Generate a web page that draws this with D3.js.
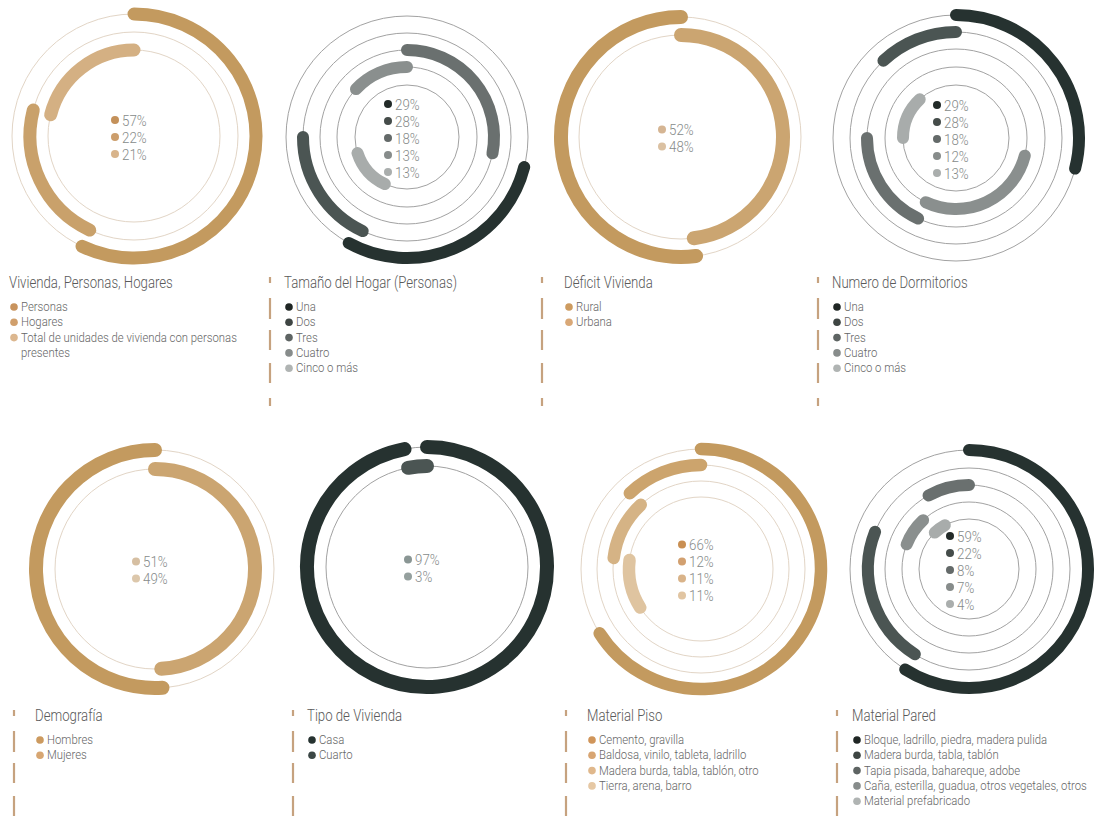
<!DOCTYPE html>
<html><head><meta charset="utf-8">
<script src="https://cdn.jsdelivr.net/npm/d3@7"></script>
<style>
html,body{margin:0;padding:0;background:#fff;}
svg{display:block;}
text{font-family:Roboto,"Liberation Sans",sans-serif;}
</style></head><body>
<svg id="chart" width="1095" height="829"></svg>
<script>
// ---------------- DATA ----------------
const titles = ["Vivienda, Personas, Hogares","Tamaño del Hogar (Personas)","Déficit Vivienda","Numero de Dormitorios","Demografía","Tipo de Vivienda","Material Piso","Material Pared"];

const viviendaLabels = ["Personas","Hogares","Total de unidades de vivienda con personas presentes"];
const viviendaValues = [57,22,21];
const viviendaRings  = [1,2,3];
const viviendaStarts = [0,57,79];

const tamanoLabels = ["Una","Dos","Tres","Cuatro","Cinco o más"];
const tamanoValues = [29,28,18,13,13];
const tamanoRings  = [1,3,2,4,5];
const tamanoStarts = [29,0,57,87,57];

const deficitLabels = ["Rural","Urbana"];
const deficitValues = [52,48];
const deficitRings  = [1,2];
const deficitStarts = [48,0];

const dormLabels = ["Una","Dos","Tres","Cuatro","Cinco o más"];
const dormValues = [29,28,18,12,13];
const dormRings  = [1,4,3,2,5];
const dormStarts = [0,29,57,88,75];

const demoLabels = ["Hombres","Mujeres"];
const demoValues = [51,49];
const demoRings  = [1,2];
const demoStarts = [49,0];

const tipoLabels = ["Casa","Cuarto"];
const tipoValues = [97,3];
const tipoRings  = [1,2];
const tipoStarts = [0,97];

const pisoLabels = ["Cemento, gravilla","Baldosa, vinilo, tableta, ladrillo","Madera burda, tabla, tablón, otro","Tierra, arena, barro"];
const pisoValues = [66,12,11,11];
const pisoRings  = [1,2,3,4];
const pisoStarts = [0,88,77,66];

const paredLabels = ["Bloque, ladrillo, piedra, madera pulida","Madera burda, tabla, tablón","Tapia pisada, bahareque, adobe","Caña, esterilla, guadua, otros vegetales, otros","Material prefabricado"];
const paredValues = [59,22,8,7,4];
const paredRings  = [1,2,3,4,5];
const paredStarts = [0,59,92,81,88];

// ---------------- STYLES ----------------
const tanRing3 = ["#c39a5f","#c9a16b","#d4b083"];
const tanRing2 = ["#c39a5f","#cba571"];
const tanRing4 = ["#c39a5f","#cca46d","#d5b385","#dfc4a0"];
const greyRing5 = ["#263230","#4b5553","#6a706f","#8a8f8e","#a8acab"];
const greyRing2 = ["#263230","#4b5553"];
const greyDots = ["#222a28","#454c4a","#646a69","#878c8b","#aaaead"];
const greyLeg  = ["#1f2624","#3e4543","#5e6463","#878c8b","#b0b4b3"];
const tanThin = "#e2d5c6", greyThin = "#a2a2a2";
const SX_TITLE = 0.8, SX_LEG = 0.84, SX_CENTER = 0.86;

const charts = [
  {labels:viviendaLabels, values:viviendaValues, rings:viviendaRings, starts:viviendaStarts,
   cx:134, cy:136, radii:[122,104,86], ringColors:tanRing3, thin:tanThin,
   dots:["#c4915a","#cc9e6c","#d8b48b"], leg:["#c8935d","#d09f6c","#dcb78f"],
   tx:9, ty:288, sep:null, wrap:240},
  {labels:tamanoLabels, values:tamanoValues, rings:tamanoRings, starts:tamanoStarts,
   cx:407, cy:137, radii:[121,104,87,70,52], ringColors:greyRing5, thin:greyThin,
   dots:greyDots, leg:greyLeg, tx:284, ty:288, sep:270, wrap:250},
  {labels:deficitLabels, values:deficitValues, rings:deficitRings, starts:deficitStarts,
   cx:681, cy:137, radii:[120,102], ringColors:tanRing2, thin:tanThin,
   dots:["#d5b593","#dbc1a2"], leg:["#cd9b60","#d9a877"], tx:564, ty:288, sep:542, wrap:250},
  {labels:dormLabels, values:dormValues, rings:dormRings, starts:dormStarts,
   cx:956, cy:138, radii:[123,106,89,71,53], ringColors:greyRing5, thin:greyThin,
   dots:greyDots, leg:greyLeg, tx:832, ty:288, sep:818, wrap:260},
  {labels:demoLabels, values:demoValues, rings:demoRings, starts:demoStarts,
   cx:155, cy:569, radii:[119,100], ringColors:tanRing2, thin:tanThin,
   dots:["#d6bfa2","#dcc7ab"], leg:["#cc9a5f","#d7a672"], tx:35, ty:721, sep:14, wrap:250},
  {labels:tipoLabels, values:tipoValues, rings:tipoRings, starts:tipoStarts,
   cx:427, cy:567, radii:[120,101], ringColors:greyRing2, thin:greyThin,
   dots:["#8a9694","#95a09e"], leg:["#263230","#3b4745"], tx:307, ty:721, sep:293, wrap:250},
  {labels:pisoLabels, values:pisoValues, rings:pisoRings, starts:pisoStarts,
   cx:701, cy:569, radii:[120,104,88,72], ringColors:tanRing4, thin:tanThin,
   dots:["#c98f52","#d2a070","#d9b389","#e1c5a2"], leg:["#d0955a","#d8a572","#e0b88c","#e6c8a4"],
   tx:587, ty:721, sep:566, wrap:250},
  {labels:paredLabels, values:paredValues, rings:paredRings, starts:paredStarts,
   cx:969, cy:569, radii:[119,101,84,67,50], ringColors:greyRing5, thin:greyThin,
   dots:greyDots, leg:greyLeg, tx:852, ty:721, sep:837, wrap:300},
];

// ---------------- DRAW ----------------
const svg = d3.select("#chart");
const angle = d3.scaleLinear().domain([0,100]).range([0, 2*Math.PI]);

function arcPath(r, a0, a1){
  const p = d3.path();
  p.arc(0, 0, r, a0 - Math.PI/2, a1 - Math.PI/2, false);
  return p.toString();
}
function addText(parent, x, y, str, size, fill, sx, dy){
  const t = parent.append("text")
    .attr("transform", `translate(${x},${y}) scale(${sx},1)`)
    .attr("font-size", size).attr("fill", fill).text(str);
  if (dy) t.attr("dy", dy);
  return t;
}

charts.forEach((c, ci) => {
  const g = svg.append("g").attr("transform", `translate(${c.cx},${c.cy})`);
  const n = c.radii.length;
  const sw = n >= 5 ? 12 : n === 4 ? 12.5 : n === 3 ? 13 : 14;

  g.selectAll("circle.ring").data(c.radii).join("circle")
    .attr("class","ring").attr("r", d => d)
    .attr("fill","none").attr("stroke", c.thin).attr("stroke-width", 1);

  const segs = c.values.map((v, i) => ({v, ring:c.rings[i], start:c.starts[i]}))
    .sort((a,b) => a.ring - b.ring);
  g.selectAll("path.seg").data(segs).join("path")
    .attr("class","seg")
    .attr("d", d => arcPath(c.radii[d.ring-1], angle(d.start), angle(d.start + d.v)))
    .attr("fill","none")
    .attr("stroke", d => c.ringColors[d.ring-1])
    .attr("stroke-width", sw)
    .attr("stroke-linecap","round");

  // center labels
  const step = 17;
  c.values.forEach((v, i) => {
    const yy = (i-(c.values.length-1)/2)*step + 1;
    g.append("circle").attr("cx",-19).attr("cy",yy).attr("r",4).attr("fill",c.dots[i]);
    addText(g, -12, yy, v + "%", 15.5, "#868b8a", SX_CENTER, "0.36em").attr("font-weight",300);
  });

  // title
  addText(svg, c.tx, c.ty, titles[ci], 16.5, "#5a5a5a", SX_TITLE).attr("font-weight",300);

  // legend
  let line = 0;
  const lg = svg.append("g");
  c.labels.forEach((lbl, i) => {
    const y0 = c.ty + 23 + line*15.3;
    lg.append("circle").attr("cx", c.tx+5).attr("cy", y0-4).attr("r",3.8).attr("fill", c.leg[i]);
    const words = lbl.split(" ");
    let cur = [];
    let t = addText(lg, c.tx+12, c.ty + 23 + line*15.3, "", 13.5, "#666", SX_LEG).attr("font-weight",300);
    words.forEach(w => {
      cur.push(w);
      t.text(cur.join(" "));
      if (t.node().getComputedTextLength()*SX_LEG > c.wrap - 12 && cur.length > 1) {
        cur.pop();
        t.text(cur.join(" "));
        cur = [w];
        line++;
        t = addText(lg, c.tx+12, c.ty + 23 + line*15.3, w, 13.5, "#666", SX_LEG).attr("font-weight",300);
      }
    });
    line++;
  });

  // separator
  if (c.sep !== null) {
    svg.append("line").attr("x1", c.sep).attr("x2", c.sep)
      .attr("y1", c.ty-11).attr("y2", c.ty-11+129)
      .attr("stroke","#c6a27f").attr("stroke-width",2.2)
      .attr("stroke-dasharray","6,15,21,11,20,13,20,15,8");
  }
});
</script>
</body></html>
